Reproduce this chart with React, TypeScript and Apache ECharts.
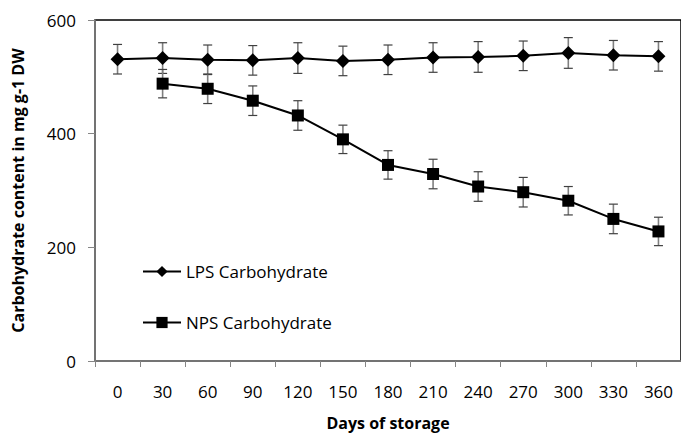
import React, { useEffect, useRef } from "react";
import * as echarts from "echarts";

const days = ["0", "30", "60", "90", "120", "150", "180", "210", "240", "270", "300", "330", "360"];
const lpsValues = [531, 533, 530, 529, 533, 528, 530, 534, 535, 537, 542, 538, 536];
const lpsErrors = [26, 27, 26, 26, 27, 26, 26, 26, 27, 26, 27, 26, 26];
const npsValues: (number | null)[] = [null, 488, 479, 458, 432, 390, 345, 329, 307, 297, 282, 250, 228];
const npsErrors: (number | null)[] = [null, 25, 26, 26, 26, 25, 25, 26, 26, 26, 25, 26, 25];
const yTicks = { min: 0, max: 600, interval: 200 };

const FONT = "'Open Sans', 'Noto Sans', sans-serif";

function errorSeries(name: string, values: (number | null)[], errors: (number | null)[]) {
  const data = values
    .map((v, i) => (v == null || errors[i] == null ? null : [i, v - (errors[i] as number), v + (errors[i] as number)]))
    .filter((d) => d !== null);
  return {
    name,
    type: "custom",
    z: 1,
    silent: true,
    data,
    renderItem: (params: any, api: any) => {
      const idx = api.value(0);
      const lo = api.coord([idx, api.value(1)]);
      const hi = api.coord([idx, api.value(2)]);
      const x = lo[0];
      const cap = 4.5;
      return {
        type: "group",
        children: [
          { type: "line", shape: { x1: x, y1: hi[1], x2: x, y2: lo[1] }, style: { stroke: "#7f7f7f", lineWidth: 1.6 } },
          { type: "line", shape: { x1: x - cap, y1: hi[1], x2: x + cap, y2: hi[1] }, style: { stroke: "#404040", lineWidth: 1.2 } },
          { type: "line", shape: { x1: x - cap, y1: lo[1], x2: x + cap, y2: lo[1] }, style: { stroke: "#404040", lineWidth: 1.2 } },
        ],
      };
    },
  };
}

export default function App() {
  const ref = useRef<HTMLDivElement>(null);
  useEffect(() => {
    if (!ref.current) return;
    const chart = echarts.init(ref.current, null, { renderer: "svg" });
    chart.setOption({
      animation: false,
      backgroundColor: "#ffffff",
      grid: {
        left: 95,
        top: 20,
        right: -7,
        height: 348,
        show: true,
        borderColor: "#000000",
        borderWidth: 1.5,
        backgroundColor: "transparent",
      },
      legend: {
        data: ["LPS Carbohydrate", "NPS Carbohydrate"],
        orient: "vertical",
        left: 137,
        top: 258,
        itemWidth: 38,
        itemHeight: 14,
        itemGap: 34,
        textStyle: { fontFamily: FONT, fontSize: 17, color: "#000" },
      },
      xAxis: {
        type: "category",
        data: days,
        boundaryGap: true,
        name: "Days of storage",
        nameLocation: "middle",
        nameGap: 54,
        nameTextStyle: { fontFamily: FONT, fontSize: 16, fontWeight: "bold", color: "#000" },
        axisLine: { show: true, lineStyle: { color: "#868686", width: 1.5 } },
        axisTick: { show: true, length: 6, alignWithLabel: false, lineStyle: { color: "#868686" } },
        axisLabel: { fontFamily: FONT, fontSize: 17, color: "#000", margin: 22 },
        splitLine: { show: false },
      },
      yAxis: {
        type: "value",
        min: yTicks.min,
        max: yTicks.max,
        interval: yTicks.interval,
        name: "Carbohydrate content in mg g-1 DW",
        nameLocation: "middle",
        nameGap: 69,
        nameTextStyle: { fontFamily: FONT, fontSize: 16, fontWeight: "bold", color: "#000" },
        axisLine: { show: true, lineStyle: { color: "#868686", width: 1.5 } },
        axisTick: { show: true, length: 7, lineStyle: { color: "#868686" } },
        axisLabel: { fontFamily: FONT, fontSize: 17, color: "#000", margin: 19 },
        splitLine: { show: false },
      },
      series: [
        errorSeries("lpsErr", lpsValues, lpsErrors),
        errorSeries("npsErr", npsValues, npsErrors),
        {
          name: "LPS Carbohydrate",
          type: "line",
          z: 3,
          data: lpsValues,
          symbol: "diamond",
          symbolSize: 14,
          itemStyle: { color: "#000" },
          lineStyle: { color: "#000", width: 2 },
        },
        {
          name: "NPS Carbohydrate",
          type: "line",
          z: 3,
          data: npsValues.map((v) => (v == null ? "-" : v)),
          symbol: "rect",
          symbolSize: 12,
          itemStyle: { color: "#000" },
          lineStyle: { color: "#000", width: 2 },
        },
      ],
    });
    return () => chart.dispose();
  }, []);
  return <div ref={ref} style={{ position: "absolute", left: 0, top: 0, width: 681, height: 436 }} />;
}
